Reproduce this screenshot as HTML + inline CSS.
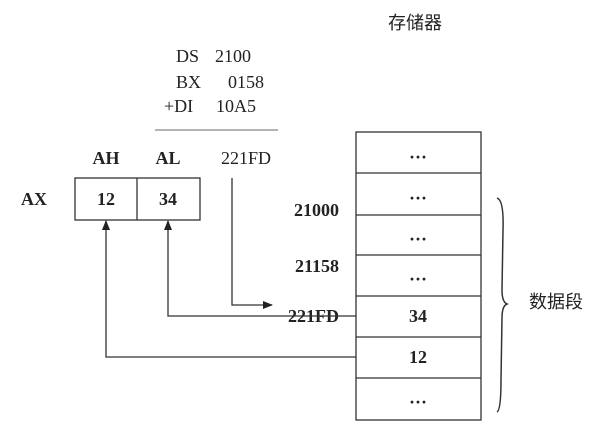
<!DOCTYPE html>
<html><head><meta charset="utf-8"><style>
html,body{margin:0;padding:0;background:#fff;}
</style></head><body>
<svg width="609" height="444" xmlns="http://www.w3.org/2000/svg" style="display:block">
<defs><marker id="a" markerWidth="10" markerHeight="8" refX="9" refY="4" orient="auto" markerUnits="userSpaceOnUse"><path d="M0,0 L10,4 L0,8 z" fill="#222"/></marker></defs>
<g font-family="Liberation Serif, serif" fill="#222">
<text x="415" y="29" font-family="Liberation Sans, Noto Sans CJK SC, sans-serif" font-size="18" text-anchor="middle">存储器</text>
<text x="176" y="62" font-size="18">DS</text><text x="215" y="62" font-size="18">2100</text>
<text x="176" y="88" font-size="18">BX</text><text x="228" y="88" font-size="18">0158</text>
<text x="164" y="112" font-size="18">+DI</text><text x="216" y="112" font-size="18">10A5</text>
<line x1="155" y1="130" x2="278" y2="130" stroke="#888" stroke-width="1.2"/>
<g font-weight="bold" font-size="18">
<text x="106" y="164" text-anchor="middle">AH</text>
<text x="168" y="164" text-anchor="middle">AL</text>
<text x="34" y="205" text-anchor="middle">AX</text>
<text x="106" y="205" text-anchor="middle">12</text>
<text x="168" y="205" text-anchor="middle">34</text>
<text x="339" y="216" text-anchor="end">21000</text>
<text x="339" y="272" text-anchor="end">21158</text>
<text x="339" y="322" text-anchor="end">221FD</text>
<text x="418" y="163" text-anchor="middle">···</text>
<text x="418" y="204" text-anchor="middle">···</text>
<text x="418" y="245" text-anchor="middle">···</text>
<text x="418" y="285" text-anchor="middle">···</text>
<text x="418" y="322" text-anchor="middle">34</text>
<text x="418" y="363" text-anchor="middle">12</text>
<text x="418" y="408" text-anchor="middle">···</text>
</g>
<text x="246" y="164" font-size="18" text-anchor="middle">221FD</text>
<text x="556" y="308" font-family="Liberation Sans, Noto Sans CJK SC, sans-serif" font-size="18" text-anchor="middle">数据段</text>
</g>
<g stroke="#333" stroke-width="1.3" fill="none">
<rect x="75" y="178" width="125" height="42"/>
<line x1="137" y1="178" x2="137" y2="220"/>
<rect x="356" y="132" width="125" height="288"/>
<line x1="356" y1="173" x2="481" y2="173"/>
<line x1="356" y1="215" x2="481" y2="215"/>
<line x1="356" y1="255" x2="481" y2="255"/>
<line x1="356" y1="296" x2="481" y2="296"/>
<line x1="356" y1="337" x2="481" y2="337"/>
<line x1="356" y1="378" x2="481" y2="378"/>
<polyline points="232,178 232,305 272,305" marker-end="url(#a)"/>
<polyline points="356,316 168,316 168,221" marker-end="url(#a)"/>
<polyline points="356,357 106,357 106,221" marker-end="url(#a)"/>
<path d="M497,198 Q504,200 503,230 L502,290 Q502,302 507,304 Q502,306 502,318 L501,380 Q501,410 497,412" stroke-width="1.5"/>
</g>
</svg>
</body></html>
